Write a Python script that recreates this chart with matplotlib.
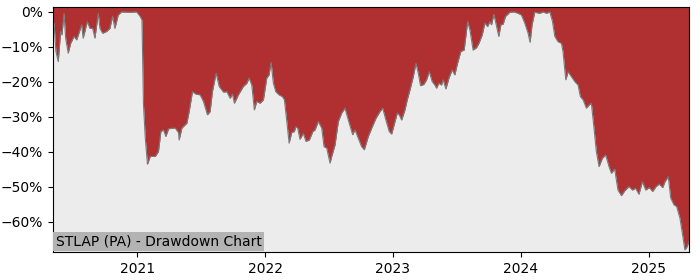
import numpy as np
import pandas as pd
import matplotlib
matplotlib.use("Agg")
import matplotlib.pyplot as plt
import matplotlib.dates as mdates
from matplotlib.ticker import FuncFormatter

### drawdown series (time as decimal year, drawdown in %)
years = [
    2020.344, 2020.352, 2020.367, 2020.385, 2020.404, 2020.414, 2020.430, 2020.443,
    2020.463, 2020.482, 2020.508, 2020.529, 2020.568, 2020.580, 2020.612, 2020.633,
    2020.654, 2020.672, 2020.698, 2020.711, 2020.732, 2020.763, 2020.789, 2020.810,
    2020.828, 2020.854, 2020.880, 2020.945, 2020.998, 2021.023, 2021.037, 2021.049,
    2021.063, 2021.080, 2021.102, 2021.141, 2021.166, 2021.185, 2021.205, 2021.224,
    2021.245, 2021.284, 2021.297, 2021.323, 2021.328, 2021.349, 2021.388, 2021.406,
    2021.432, 2021.459, 2021.492, 2021.518, 2021.549, 2021.570, 2021.588, 2021.617,
    2021.641, 2021.674, 2021.701, 2021.727, 2021.745, 2021.760, 2021.791, 2021.830,
    2021.857, 2021.875, 2021.896, 2021.916, 2021.935, 2021.961, 2021.987, 2022.013,
    2022.031, 2022.047, 2022.065, 2022.084, 2022.109, 2022.135, 2022.151, 2022.170,
    2022.188, 2022.209, 2022.229, 2022.240, 2022.255, 2022.273, 2022.299, 2022.320,
    2022.346, 2022.373, 2022.391, 2022.416, 2022.443, 2022.461, 2022.482, 2022.508,
    2022.521, 2022.547, 2022.573, 2022.599, 2022.625, 2022.651, 2022.685, 2022.703,
    2022.729, 2022.755, 2022.776, 2022.807, 2022.834, 2022.867, 2022.898, 2022.920,
    2022.945, 2022.971, 2022.990, 2023.016, 2023.034, 2023.049, 2023.068, 2023.094,
    2023.112, 2023.133, 2023.159, 2023.180, 2023.198, 2023.216, 2023.242, 2023.263,
    2023.284, 2023.307, 2023.328, 2023.341, 2023.359, 2023.380, 2023.393, 2023.414,
    2023.438, 2023.463, 2023.484, 2023.505, 2023.531, 2023.557, 2023.584, 2023.602,
    2023.627, 2023.654, 2023.672, 2023.698, 2023.719, 2023.740, 2023.758, 2023.771,
    2023.789, 2023.805, 2023.828, 2023.844, 2023.862, 2023.880, 2023.914, 2023.948,
    2023.979, 2024.005, 2024.031, 2024.057, 2024.073, 2024.088, 2024.109, 2024.148,
    2024.174, 2024.201, 2024.227, 2024.248, 2024.266, 2024.291, 2024.318, 2024.330,
    2024.352, 2024.370, 2024.396, 2024.422, 2024.448, 2024.466, 2024.487, 2024.513,
    2024.534, 2024.552, 2024.570, 2024.591, 2024.612, 2024.638, 2024.664, 2024.690,
    2024.709, 2024.734, 2024.760, 2024.787, 2024.813, 2024.846, 2024.873, 2024.898,
    2024.924, 2024.951, 2024.977, 2025.002, 2025.029, 2025.055, 2025.080, 2025.107,
    2025.125, 2025.151, 2025.170, 2025.195, 2025.216, 2025.242, 2025.263, 2025.281,
    2025.299, 2025.313,
]
drawdown = [
    -3.0, -3.2, -11.3, -14.2, -5.6, -6.6, -0.4, -7.5,
    -11.8, -9.0, -7.0, -8.0, -3.7, -7.5, -2.8, -4.7,
    -4.7, -7.5, -0.4, -4.7, -6.1, -5.6, -4.7, -1.3,
    -4.7, -0.9, 0.0, -0.1, 0.0, -1.3, -2.3, -26.6,
    -36.0, -43.5, -41.3, -41.3, -39.9, -34.2, -33.7, -35.6,
    -33.4, -33.2, -33.2, -34.5, -36.6, -33.2, -31.8, -28.5,
    -22.8, -23.5, -23.7, -25.6, -29.4, -28.5, -22.8, -17.5,
    -21.3, -22.9, -22.8, -24.7, -23.5, -26.1, -23.7, -21.3,
    -20.4, -18.9, -20.9, -28.0, -25.6, -26.1, -25.1, -18.9,
    -18.0, -14.4, -20.4, -22.8, -23.7, -24.2, -25.1, -31.3,
    -37.5, -34.4, -34.2, -32.8, -33.2, -36.4, -34.7, -37.0,
    -36.6, -34.2, -33.7, -31.3, -33.2, -38.5, -38.9, -43.2,
    -41.3, -38.0, -31.3, -28.9, -27.5, -30.9, -35.1, -33.7,
    -36.1, -38.5, -39.4, -35.6, -33.2, -30.4, -28.5, -27.5,
    -30.9, -34.2, -34.9, -31.3, -28.9, -29.4, -30.9, -28.0,
    -25.1, -22.3, -18.5, -14.7, -17.5, -21.1, -20.7, -19.4,
    -17.1, -19.9, -20.9, -21.8, -20.4, -20.9, -19.4, -22.0,
    -18.9, -16.6, -18.0, -14.7, -11.3, -10.9, -2.8, -5.1,
    -10.9, -10.2, -9.0, -6.6, -3.2, -4.2, -2.8, -3.7,
    -0.7, -3.2, -7.0, -3.7, -3.5, -1.3, -0.1, 0.0,
    -0.4, -0.9, -3.2, -6.1, -8.7, -3.7, -0.1, -0.4,
    0.0, -0.4, 0.0, -2.8, -7.0, -8.5, -9.0, -11.3,
    -19.4, -17.1, -18.5, -19.9, -20.9, -24.2, -25.1, -27.5,
    -26.6, -26.1, -32.3, -39.9, -44.2, -41.8, -40.9, -44.2,
    -46.1, -44.9, -50.9, -52.5, -51.1, -49.9, -50.9, -50.4,
    -52.1, -48.5, -50.9, -50.2, -51.3, -49.9, -49.2, -50.2,
    -48.5, -47.1, -53.2, -55.1, -55.6, -58.9, -63.7, -68.0,
    -67.0, -65.5,
]
title = 'STLAP (PA) - Drawdown Chart'


def year_to_date(t):
    y = int(t)
    return pd.Timestamp(year=y, month=1, day=1) + pd.Timedelta(days=(t - y) * 365)


dates = [year_to_date(t) for t in years]
dd = np.array(drawdown)

y_lo, y_hi = -68.6, 1.4

fig = plt.figure(figsize=(7, 2.8), dpi=100)
ax = fig.add_axes([0.0757, 0.1, 0.9086, 0.875])
ax.set_facecolor('#ececec')

### red area runs from the drawdown line up to the top of the axes
ax.fill_between(dates, dd, y_hi, color='#b03031', linewidth=0)
ax.plot(dates, dd, color='#7a7a7a', linewidth=0.8)

ax.set_xlim(dates[0], dates[-1])
ax.set_ylim(y_lo, y_hi)
ax.set_yticks(np.arange(-60, 1, 10))
ax.yaxis.set_major_formatter(FuncFormatter(lambda v, p: '{:.0f}%'.format(v).replace('-', '\u2212')))
ax.xaxis.set_major_locator(mdates.YearLocator())
ax.xaxis.set_major_formatter(mdates.DateFormatter('%Y'))

ax.annotate(title, xy=(0, 0), xycoords='axes fraction', xytext=(2, 2.5),
            textcoords='offset points', ha='left', va='bottom', fontsize=10,
            bbox=dict(facecolor='#b3b3b3', edgecolor='none', pad=2))

plt.savefig('out.png', dpi=100)
